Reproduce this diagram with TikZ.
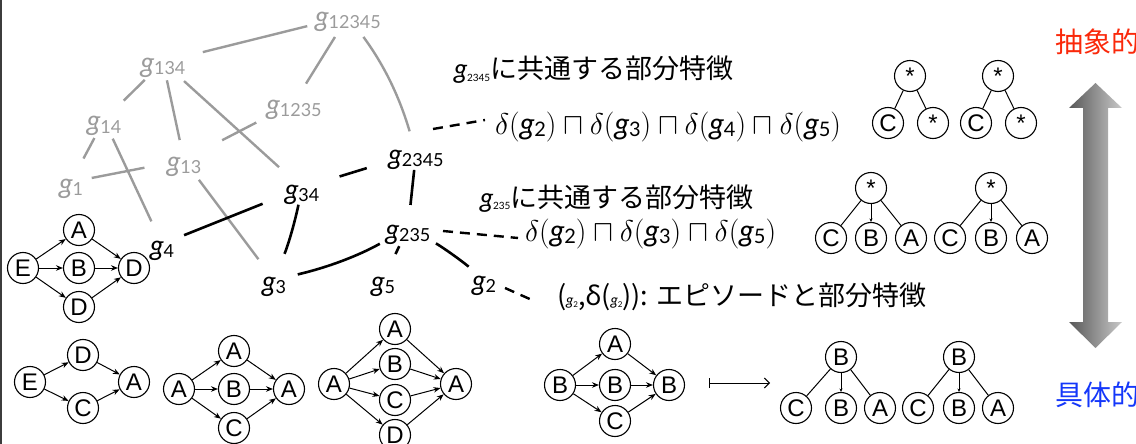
\RequirePackage{fix-cm}
\documentclass[tikz,border=0pt]{standalone}
\usepackage{fontspec}
\newfontfamily\lato{Lato}
\newfontfamily\jp{Noto Sans CJK JP}
\newfontfamily\arial{Liberation Sans}
\newfontfamily\nsans{Noto Sans}
\usetikzlibrary{arrows.meta,calc}
\newcommand\fs[1]{\fontsize{#1}{#1}\selectfont}
\newcommand\dg[2]{\mbox{\raisebox{-2pt}{\lato\upshape\fs{#1}#2}}}
\newcommand\gi{{\lato\itshape g}}
\newcommand\gl[1]{\gi\dg{18}{#1}}
\newcommand\fg[1]{\mbox{\gi\dg{20}{#1}}}
\definecolor{lg}{RGB}{155,155,155}
\definecolor{absred}{RGB}{250,40,10}
\definecolor{conblue}{RGB}{20,55,250}
\definecolor{adark}{RGB}{88,88,88}
\definecolor{alight}{RGB}{200,200,200}
\definecolor{bordergray}{RGB}{60,60,60}
\begin{document}
\begin{tikzpicture}[x=1pt,y=-1pt,
 lbl/.style={inner sep=0pt,outer sep=0pt,text height=22pt,text depth=0pt,font=\fs{28}},
 glbl/.style={lbl,text=lg},
 ge/.style={line width=2.4pt,draw=lg},
 be/.style={line width=2.6pt},
 de/.style={line width=2.4pt,dash pattern=on 10pt off 7pt},
 cn/.style={circle,draw,line width=1.1pt,minimum size=31pt,inner sep=0pt,font=\arial\fs{24}},
 ar/.style={-{Stealth[length=7pt,width=5.5pt]},line width=1pt},
 tl/.style={line width=1pt},
 tla/.style={tl,-{Stealth[length=3.5pt,width=3pt]}},
 txt/.style={inner sep=0pt,outer sep=0pt,anchor=base west}]
\useasboundingbox (0,0) rectangle (1136,444);
\draw[bordergray,line width=1.5pt] (0.75,0) -- (0.75,444);

% lattice labels
\node[glbl] (g12345) at (348,16) {\gl{12345}};
\node[glbl] (g134) at (163,62) {\gl{134}};
\node[glbl] (g1235) at (294,103) {\gl{1235}};
\node[glbl] (g14) at (104,120) {\gl{14}};
\node[glbl] (g13) at (184,160) {\gl{13}};
\node[glbl] (g1) at (71,182) {\gl{1}};
\node[lbl] (g2345) at (416,153) {\gl{2345}};
\node[lbl] (g34) at (302,188) {\gl{34}};
\node[lbl] (g4) at (162,244) {\gl{4}};
\node[lbl] (g235) at (408,228) {\gl{235}};
\node[lbl] (g3) at (274,280) {\gl{3}};
\node[lbl] (g5) at (383,280) {\gl{5}};
\node[lbl] (g2) at (484,279) {\gl{2}};

% gray edges
\draw[ge,shorten <=42pt,shorten >=41pt] (g12345.center) -- (g134.center);
\draw[ge,shorten <=24.7pt,shorten >=22.8pt] (g12345.center) -- (g1235.center);
\draw[ge,shorten <=26pt,shorten >=22.6pt] (g12345.center) to[bend left=10] (g2345.center);
\draw[ge,shorten <=25.5pt,shorten >=27.6pt] (g134.center) -- (g14.center);
\draw[ge,shorten <=18.7pt,shorten >=20.4pt] (g134.center) -- (g13.center);
\draw[ge,shorten <=28.4pt,shorten >=31pt] (g134.center) -- (g34.center);
\draw[ge,shorten <=42.5pt,shorten >=43pt] (g1235.center) -- (g13.center);
\draw[ge,shorten <=20.4pt,shorten >=26.6pt] (g14.center) -- (g1.center);
\draw[ge,shorten <=20.6pt,shorten >=25pt] (g14.center) -- (g4.center);
\draw[ge,shorten <=40.3pt,shorten >=21.1pt] (g13.center) -- (g1.center);
\draw[ge,shorten <=24.8pt,shorten >=26pt] (g13.center) -- (g3.center);

% black edges
\draw[be,shorten <=23.8pt,shorten >=42.4pt] (g4.center) -- (g34.center);
\draw[be,shorten <=17.1pt,shorten >=28.2pt] (g34.center) to[bend left=5] (g3.center);
\draw[be,shorten <=39.3pt,shorten >=51.5pt] (g34.center) -- (g2345.center);
\draw[be,shorten <=17pt,shorten >=23.2pt] (g2345.center) -- (g235.center);
\draw[be,shorten <=32.3pt,shorten >=24.4pt] (g235.center) to[bend left=8] (g3.center);
\draw[be,shorten <=20.2pt,shorten >=28.8pt] (g235.center) -- (g5.center);
\draw[be,shorten <=31.9pt,shorten >=19.7pt] (g235.center) to[bend left=5] (g2.center);

% texts
\node[txt,font=\fs{27}] (h1) at (454,79) {\gi\dg{10}{2345}{\jp に共通する部分特徴}};
\node[txt,font=\fs{30}] (f1) at (495,134) {$\delta(\fg{2})\sqcap\delta(\fg{3})\sqcap\delta(\fg{4})\sqcap\delta(\fg{5})$};
\node[txt,font=\fs{27}] (h2) at (480,207) {\gi\dg{10}{235}{\jp に共通する部分特徴}};
\node[txt,font=\fs{30}] (f2) at (525,241) {$\delta(\fg{2})\sqcap\delta(\fg{3})\sqcap\delta(\fg{5})$};
\node[txt,font=\jp\fs{27}] (f3) at (557,305) {({\fs{15}\gi\dg{8}{2}},{\nsans δ}({\fs{15}\gi\dg{8}{2}})): エピソードと部分特徴};

% dashed connectors
\draw[de] ($(g2345.center)+(17,-24)$) -- ($(f1.base west)+(-10,-14)$);
\draw[de] ($(g235.center)+(35,3)$) -- ($(f2.base west)+(-7,-3)$);
\draw[de] ($(g2.center)+(21,9)$) -- ($(f3.base west)+(-25,-5)$);

% abstract / concrete
\node[txt,font=\jp\fs{28},text=absred] (abs) at (1055,53) {抽象的};
\node[txt,font=\jp\fs{28},text=conblue] (con) at (1055,405) {具体的};
\shade[left color=adark,right color=alight] (1095.5,83) -- (1122,108) -- (1108,108) -- (1108,322) -- (1122,322) -- (1095.5,348) -- (1069,322) -- (1083,322) -- (1083,108) -- (1069,108) -- cycle;

% graph 1
\node[cn] (a1E) at (23,268) {E};
\node[cn] (a1A) at (79,230) {A};
\node[cn] (a1B) at (79,268) {B};
\node[cn] (a1D) at (134,268) {D};
\node[cn] (a1Db) at (79,307) {D};
\draw[ar] (a1E) -- (a1A);
\draw[ar] (a1E) -- (a1B);
\draw[ar] (a1E) -- (a1Db);
\draw[ar] (a1A) -- (a1D);
\draw[ar] (a1B) -- (a1D);
\draw[ar] (a1Db) -- (a1D);

% graph 2
\node[cn] (a2E) at (30,382) {E};
\node[cn] (a2D) at (83,355) {D};
\node[cn] (a2C) at (83,408) {C};
\node[cn] (a2A) at (134,382) {A};
\draw[ar] (a2E) -- (a2D);
\draw[ar] (a2E) -- (a2C);
\draw[ar] (a2D) -- (a2A);
\draw[ar] (a2C) -- (a2A);

% graph 3
\node[cn] (a3L) at (179,389) {A};
\node[cn] (a3A) at (234,351) {A};
\node[cn] (a3B) at (234,389) {B};
\node[cn] (a3C) at (234,428) {C};
\node[cn] (a3R) at (289,389) {A};
\draw[ar] (a3L) -- (a3A);
\draw[ar] (a3L) -- (a3B);
\draw[ar] (a3L) -- (a3C);
\draw[ar] (a3A) -- (a3R);
\draw[ar] (a3B) -- (a3R);
\draw[ar] (a3C) -- (a3R);

% graph 4
\node[cn] (a4L) at (334,384) {A};
\node[cn] (a4A) at (395,329) {A};
\node[cn] (a4B) at (395,364) {B};
\node[cn] (a4C) at (395,400) {C};
\node[cn] (a4D) at (395,435) {D};
\node[cn] (a4R) at (456,384) {A};
\foreach \n in {a4A,a4B,a4C,a4D}{
  \draw[ar] (a4L) -- (\n);
  \draw[ar] (\n) -- (a4R);
}

% graph 5
\node[cn] (a5L) at (560,385) {B};
\node[cn] (a5A) at (615,344) {A};
\node[cn] (a5B) at (615,385) {B};
\node[cn] (a5C) at (615,421) {C};
\node[cn] (a5R) at (669,385) {B};
\foreach \n in {a5A,a5B,a5C}{
  \draw[ar] (a5L) -- (\n);
  \draw[ar] (\n) -- (a5R);
}
\coordinate (ms1) at (709,383);
\coordinate (ms2) at (770,383);
\draw[line width=1pt,{Bar[width=10pt]}-{Straight Barb[length=5pt,width=10pt]}] (ms1) -- (ms2);

% top trees
\node[cn] (t1r) at (910,76) {*};
\node[cn] (t1c) at (888,123) {C};
\node[cn] (t1s) at (933,123) {*};
\draw[tl] (t1r) -- (t1c);
\draw[tl] (t1r) -- (t1s);
\node[cn] (t2r) at (998,76) {*};
\node[cn] (t2c) at (976,123) {C};
\node[cn] (t2s) at (1021,123) {*};
\draw[tl] (t2r) -- (t2c);
\draw[tl] (t2r) -- (t2s);

% middle trees
\node[cn] (m1r) at (871,188) {*};
\node[cn] (m1c) at (831,238) {C};
\node[cn] (m1b) at (871,238) {B};
\node[cn] (m1a) at (911,238) {A};
\draw[tl] (m1r) -- (m1c);
\draw[tla] (m1r) -- (m1b);
\draw[tl] (m1r) -- (m1a);
\node[cn] (m2r) at (991,188) {*};
\node[cn] (m2c) at (950,238) {C};
\node[cn] (m2b) at (991,238) {B};
\node[cn] (m2a) at (1032,238) {A};
\draw[tl] (m2r) -- (m2c);
\draw[tla] (m2r) -- (m2b);
\draw[tl] (m2r) -- (m2a);

% bottom trees
\node[cn] (b1r) at (841,357) {B};
\node[cn] (b1c) at (796,408) {C};
\node[cn] (b1b) at (841,408) {B};
\node[cn] (b1a) at (880,408) {A};
\draw[tl] (b1r) -- (b1c);
\draw[tla] (b1r) -- (b1b);
\draw[tl] (b1r) -- (b1a);
\node[cn] (b2r) at (959,357) {B};
\node[cn] (b2c) at (918,408) {C};
\node[cn] (b2b) at (959,408) {B};
\node[cn] (b2a) at (998,408) {A};
\draw[tl] (b2r) -- (b2c);
\draw[tla] (b2r) -- (b2b);
\draw[tl] (b2r) -- (b2a);
\end{tikzpicture}
\end{document}
